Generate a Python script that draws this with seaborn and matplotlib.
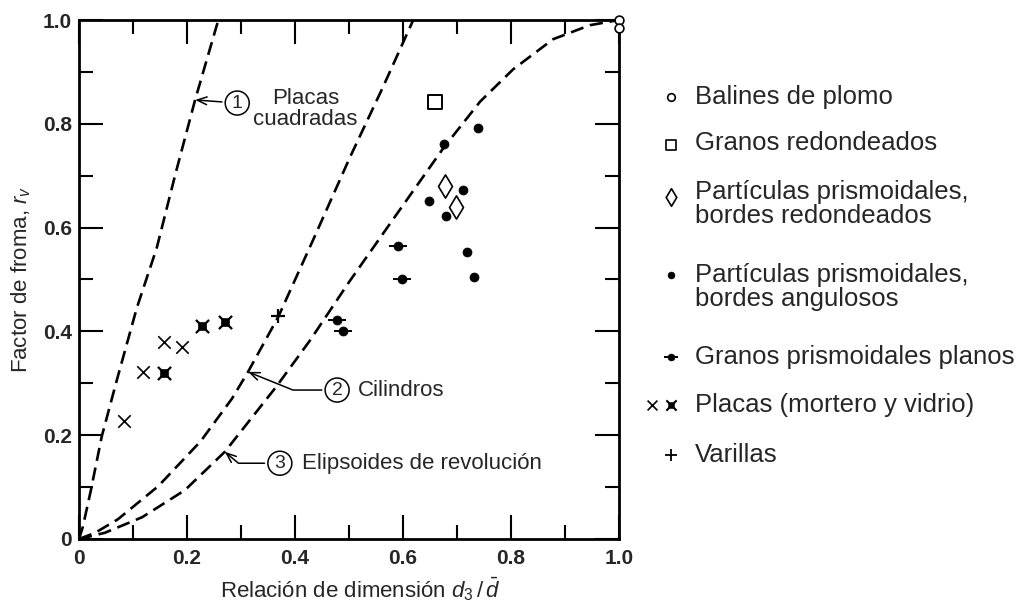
import numpy as np
import pandas as pd
import matplotlib
matplotlib.use("Agg")
import matplotlib.pyplot as plt
import seaborn as sns

# --- data -------------------------------------------------------------
# theoretical curves (dashed)
placas_x = [0, 0.007, 0.022, 0.042, 0.070, 0.107, 0.144, 0.178, 0.215, 0.258]
placas_y = [0, 0.023, 0.094, 0.197, 0.306, 0.445, 0.561, 0.701, 0.846, 1.0]
cil_x = [0, 0.030, 0.072, 0.147, 0.225, 0.283, 0.313, 0.369, 0.433, 0.502, 0.563, 0.619]
cil_y = [0, 0.012, 0.038, 0.102, 0.188, 0.270, 0.322, 0.428, 0.575, 0.736, 0.871, 1.0]
elip_x = [0, 0.048, 0.117, 0.196, 0.270, 0.365, 0.428, 0.500, 0.581, 0.676, 0.743, 0.804, 0.878, 0.946, 1.0]
elip_y = [0, 0.012, 0.042, 0.094, 0.168, 0.293, 0.383, 0.495, 0.615, 0.755, 0.843, 0.905, 0.963, 0.990, 1.0]

# measured points
balines_x = [1.0, 1.0]
balines_y = [1.0, 0.985]
redondeados_x = [0.659]
redondeados_y = [0.842]
prism_red_x = [0.678, 0.698]
prism_red_y = [0.680, 0.640]
prism_ang_x = [0.739, 0.676, 0.648, 0.711, 0.680, 0.719, 0.731]
prism_ang_y = [0.792, 0.761, 0.652, 0.672, 0.622, 0.553, 0.505]
planos_x = [0.591, 0.598, 0.478, 0.489]
planos_y = [0.565, 0.501, 0.422, 0.401]
placas_mort_x = [0.083, 0.119, 0.157, 0.190]
placas_mort_y = [0.227, 0.322, 0.380, 0.370]
placas_vid_x = [0.157, 0.228, 0.270]
placas_vid_y = [0.320, 0.410, 0.418]
varillas_x = [0.369]
varillas_y = [0.430]

ticks = [0, 0.2, 0.4, 0.6, 0.8, 1.0]
tick_labels = ['0', '0.2', '0.4', '0.6', '0.8', '1.0']

legend_labels = ['Balines de plomo', 'Granos redondeados',
                 'Partículas prismoidales,\nbordes redondeados',
                 'Partículas prismoidales,\nbordes angulosos',
                 'Granos prismoidales planos', 'Placas (mortero y vidrio)',
                 'Varillas']

# --- style ------------------------------------------------------------
sns.set_theme(style='ticks')
plt.rcParams['font.family'] = ['Liberation Sans', 'DejaVu Sans']
plt.rcParams['mathtext.fontset'] = 'custom'
plt.rcParams['mathtext.rm'] = 'Liberation Sans'
plt.rcParams['mathtext.it'] = 'Liberation Sans:italic'

fig = plt.figure(figsize=(10.23, 6.05), dpi=100)
ax = fig.add_axes([79/1023, 66/605, 540/1023, 519/605])

# dashed curves
dash = (0, (5, 2.6))
for cx, cy in [(placas_x, placas_y), (cil_x, cil_y), (elip_x, elip_y)]:
    sns.lineplot(x=cx, y=cy, ax=ax, sort=False, estimator=None,
                 color='black', lw=1.9, linestyle=dash)

# points
kw = dict(ax=ax, clip_on=False, zorder=5, legend=False)
sns.scatterplot(x=balines_x, y=balines_y, marker='o', s=40, color='white',
                edgecolor='black', linewidth=1.2, **kw)
sns.scatterplot(x=redondeados_x, y=redondeados_y, marker='s', s=110, color='white',
                edgecolor='black', linewidth=1.4, **kw)
sns.scatterplot(x=prism_red_x, y=prism_red_y, marker='d', s=140, color='white',
                edgecolor='black', linewidth=1.2, **kw)
sns.scatterplot(x=prism_ang_x, y=prism_ang_y, marker='o', s=42, color='black',
                edgecolor='black', **kw)
sns.scatterplot(x=planos_x, y=planos_y, marker='o', s=42, color='black',
                edgecolor='black', **kw)
sns.scatterplot(x=planos_x, y=planos_y, marker='_', s=150, color='black',
                linewidth=1.4, **kw)
sns.scatterplot(x=placas_mort_x, y=placas_mort_y, marker='x', s=80, color='black',
                linewidth=1.2, **kw)
sns.scatterplot(x=placas_vid_x, y=placas_vid_y, marker='x', s=90, color='black',
                linewidth=1.6, **kw)
sns.scatterplot(x=placas_vid_x, y=placas_vid_y, marker='s', s=35, color='black',
                edgecolor='black', **kw)
sns.scatterplot(x=varillas_x, y=varillas_y, marker='+', s=110, color='black',
                linewidth=1.6, **kw)

# axes
ax.set_xlim(0, 1)
ax.set_ylim(0, 1)
ax.set_xticks(ticks)
ax.set_yticks(ticks)
ax.set_xticks(np.arange(0.1, 1.0, 0.2), minor=True)
ax.set_yticks(np.arange(0.1, 1.0, 0.2), minor=True)
ax.set_xticklabels(tick_labels, fontsize=15, fontweight='bold')
ax.set_yticklabels(tick_labels, fontsize=15, fontweight='bold')
ax.tick_params(which='both', direction='in', top=True, right=True, color='black', width=1.5)
ax.tick_params(which='major', length=17)
ax.tick_params(which='minor', length=10)
ax.tick_params(axis='x', which='major', pad=7)
ax.tick_params(axis='y', which='major', pad=5)
for sp in ax.spines.values():
    sp.set_color('black')
    sp.set_linewidth(2)

ax.set_xlabel(r'Relación de dimensión $d_3\,/\,\bar{d}$', fontsize=16)
ax.set_ylabel(r'Factor de froma, $r_v$', fontsize=16)
ax.xaxis.set_label_coords(0.52, -0.07)
ax.yaxis.set_label_coords(-0.085, 0.5)

# curve annotations
circ = dict(boxstyle='circle,pad=0.18', fc='white', ec='black', lw=1.1)
arrow = dict(arrowstyle='->,head_length=0.5,head_width=0.2', color='black', lw=1.1,
             shrinkB=0)
ax.annotate('1', xy=(0.215, 0.846), xytext=(0.293, 0.840), fontsize=14, ha='center',
            va='center', bbox=circ, arrowprops=dict(arrow, connectionstyle='arc3'))
ax.text(0.419, 0.828, 'Placas\ncuadradas', fontsize=16, ha='center', va='center',
        linespacing=1.0)
ax.annotate('2', xy=(0.313, 0.322), xytext=(0.478, 0.287), fontsize=14, ha='center',
            va='center', bbox=circ,
            arrowprops=dict(arrow, connectionstyle='angle,angleA=0,angleB=-22,rad=0'))
ax.text(0.517, 0.287, 'Cilindros', fontsize=16, ha='left', va='center')
ax.annotate('3', xy=(0.270, 0.168), xytext=(0.372, 0.146), fontsize=14, ha='center',
            va='center', bbox=circ,
            arrowprops=dict(arrow, connectionstyle='angle,angleA=0,angleB=-40,rad=0'))
ax.text(0.413, 0.146, 'Elipsoides de revolución', fontsize=16, ha='left', va='center')

# legend drawn on an overlay in pixel units
lax = fig.add_axes([0, 0, 1, 1])
lax.set_xlim(0, 1023)
lax.set_ylim(605, 0)
lax.axis('off')
mx = 671
label_y = [97, 143, 204, 287, 357, 405, 455]
lkw = dict(ax=lax, legend=False, clip_on=False)
sns.scatterplot(x=[mx], y=[97], marker='o', s=30, color='white', edgecolor='black',
                linewidth=1.2, **lkw)
sns.scatterplot(x=[mx], y=[145], marker='s', s=60, color='white', edgecolor='black',
                linewidth=1.2, **lkw)
sns.scatterplot(x=[mx], y=[197], marker='d', s=80, color='white', edgecolor='black',
                linewidth=1.2, **lkw)
sns.scatterplot(x=[mx], y=[275], marker='o', s=25, color='black', edgecolor='black', **lkw)
sns.scatterplot(x=[mx], y=[357], marker='o', s=25, color='black', edgecolor='black', **lkw)
sns.scatterplot(x=[mx], y=[357], marker='_', s=110, color='black', linewidth=1.4, **lkw)
sns.scatterplot(x=[652], y=[405], marker='x', s=50, color='black', linewidth=1.2, **lkw)
sns.scatterplot(x=[mx], y=[405], marker='x', s=55, color='black', linewidth=1.5, **lkw)
sns.scatterplot(x=[mx], y=[405], marker='s', s=22, color='black', edgecolor='black', **lkw)
sns.scatterplot(x=[mx], y=[455], marker='+', s=70, color='black', linewidth=1.3, **lkw)
for lab, ly in zip(legend_labels, label_y):
    lax.text(695, ly, lab, fontsize=18.5, ha='left', va='center', linespacing=1.0)

fig.savefig('out.png', dpi=100, facecolor='white')
